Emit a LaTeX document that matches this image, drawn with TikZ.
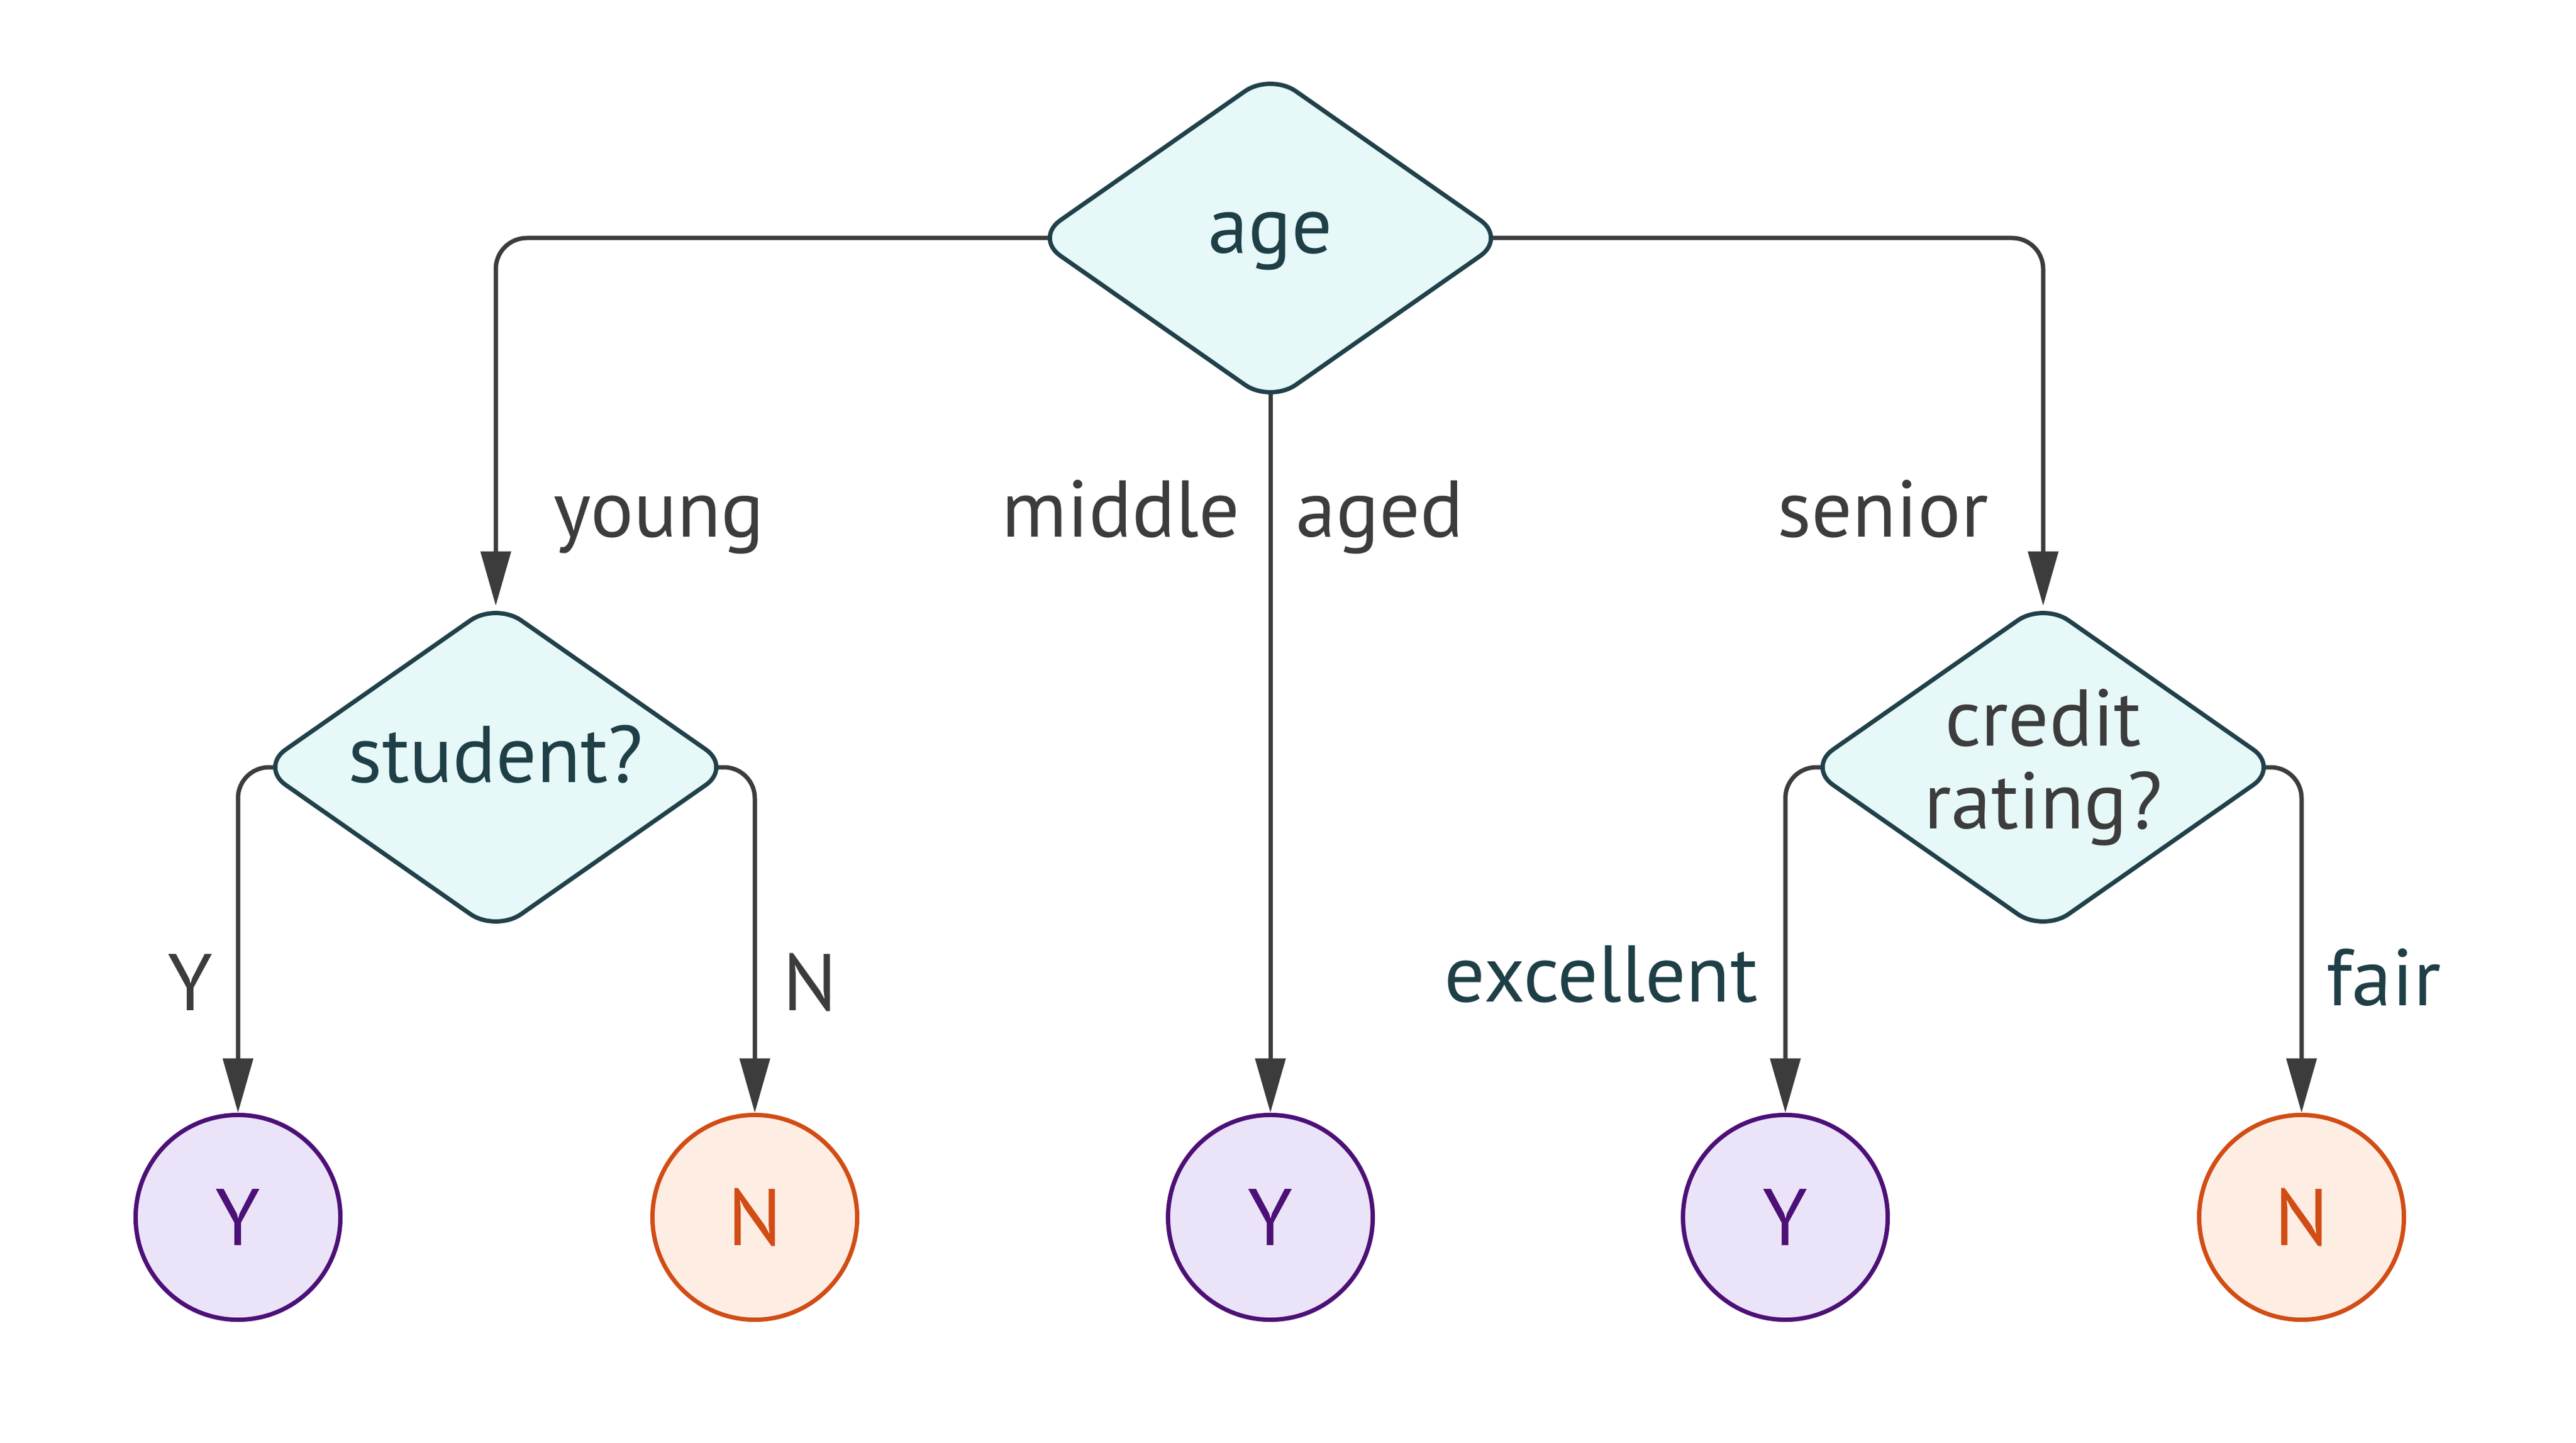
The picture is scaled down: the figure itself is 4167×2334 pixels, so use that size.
\documentclass[tikz,border=0pt]{standalone}
\usepackage{fontspec}
\setmainfont{PT Sans}
\usetikzlibrary{shapes.geometric,arrows.meta}
\definecolor{dfill}{HTML}{E6F8F8}
\definecolor{dline}{HTML}{21414A}
\definecolor{dtext}{HTML}{1F3F47}
\definecolor{egray}{HTML}{3C3C3C}
\definecolor{yline}{HTML}{4C1077}
\definecolor{yfill}{HTML}{EBE3F7}
\definecolor{nline}{HTML}{D14D15}
\definecolor{nfill}{HTML}{FEEDE3}
\pgfdeclarelayer{bgl}
\pgfdeclarelayer{edgel}
\pgfsetlayers{bgl,edgel,main}
\begin{document}
\begin{tikzpicture}[x=0.01cm,y=-0.01cm,
  txt/.style={font=\fontsize{37pt}{38pt}\selectfont},
  decision/.style={txt, shape=diamond, shape aspect=1.42, draw=dline, fill=dfill, line width=0.07cm,
    rounded corners=0.5cm, inner sep=-0.3cm, minimum width=7.64cm, minimum height=5.35cm,
    text=dtext, align=center},
  oneline/.style={text height=0.9cm, text depth=0.42cm},
  leafy/.style={txt, circle, draw=yline, fill=yfill, text=yline, line width=0.07cm,
    minimum size=3.31cm, inner sep=0pt, text height=0.91cm, text depth=0pt},
  leafn/.style={leafy, draw=nline, fill=nfill, text=nline},
  lbl/.style={txt, inner sep=0pt, anchor=base, text=egray},
  lbld/.style={lbl, text=dtext},
  edge/.style={draw=egray, line width=0.07cm, rounded corners=0.5cm,
    -{Triangle[length=0.88cm,width=0.48cm]}},
]
\useasboundingbox (0,0) rectangle (4167,2334);
\begin{pgfonlayer}{bgl}
  \fill[white] (0,0) rectangle (4167,2334);
\end{pgfonlayer}

% decision nodes
\node[decision, oneline] (age) at (2055,385) {age};
\node[decision, oneline] (student) at (802,1241) {student?};
\node[decision, text=egray] (credit) at (3305,1241) {credit\\rating?};

% leaves
\node[leafy] (y1) at (385,1969) {Y};
\node[leafn] (n1) at (1221,1969) {N};
\node[leafy] (y2) at (2055,1969) {Y};
\node[leafy] (y3) at (2888,1969) {Y};
\node[leafn] (n3) at (3723,1969) {N};

% edge labels
\node[lbl] (lyoung) at (1066,868) {young};
\node[lbl] (lmiddle) at (1813,868) {middle};
\node[lbl] (laged) at (2232,868) {aged};
\node[lbl] (lsenior) at (3046,868) {senior};
\node[lbl] (ly) at (308,1634) {Y};
\node[lbl] (ln) at (1310,1634) {N};
\node[lbld] (lexc) at (2590,1620) {excellent};
\node[lbld] (lfair) at (3856,1626) {fair};

% connectors
\begin{pgfonlayer}{edgel}
  \draw[edge, shorten >=-0.1cm] (age.center) -| (student.north);
  \draw[edge, shorten >=-0.1cm] (age.center) -| (credit.north);
  \draw[edge] (age.center) -- (y2.north);
  \draw[edge] (student.center) -| (y1.north);
  \draw[edge] (student.center) -| (n1.north);
  \draw[edge] (credit.center) -| (y3.north);
  \draw[edge] (credit.center) -| (n3.north);
\end{pgfonlayer}
\end{tikzpicture}
\end{document}
